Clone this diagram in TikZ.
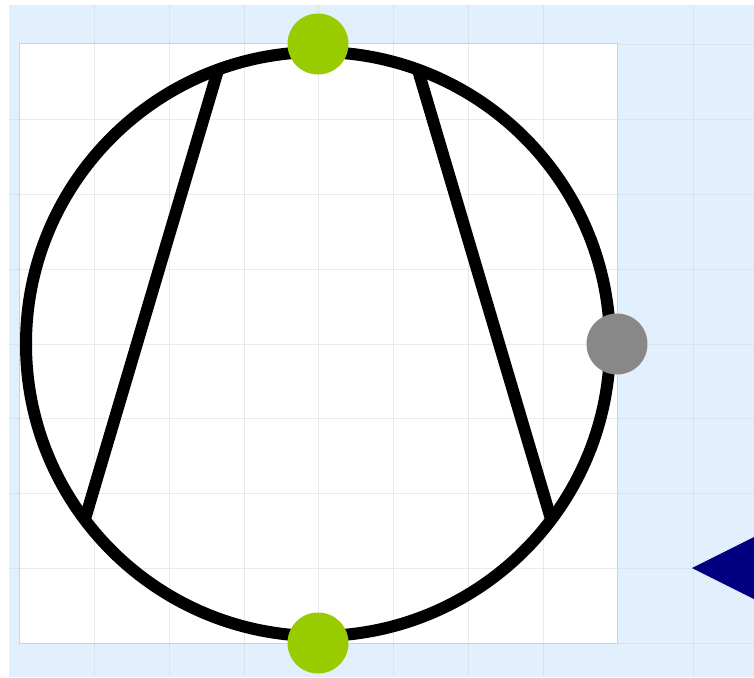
\documentclass[tikz,border=0pt]{standalone}
\definecolor{bgblue}{HTML}{E1F0FC}
\definecolor{gridc}{HTML}{D2D8DE}
\definecolor{rectc}{HTML}{CCD2D8}
\definecolor{dotgreen}{HTML}{99CC00}
\definecolor{dotgray}{HTML}{888888}
\definecolor{navy}{HTML}{000080}
\tikzset{
  gridline/.style={draw=gridc, line width=0.7pt, opacity=0.5},
  ring/.style={circle, draw=black, line width=12pt, minimum size=584pt, inner sep=0pt, outer sep=0pt},
  chord/.style={draw=black, line width=12pt},
  dot/.style={circle, minimum size=61pt, inner sep=0pt},
}
\begin{document}
\begin{tikzpicture}[x=1pt,y=-1pt]
\useasboundingbox (0,0) rectangle (754,677);
\clip (0,0) rectangle (754,677);
\fill[bgblue] (9,5) rectangle (754,677);
\fill[white] (19,44) rectangle (617,643);
\foreach \x in {94,169,244,318,393,468,543,693}
  \draw[gridline] (\x,5) -- (\x,677);
\foreach \y in {119,194,269,344,418,493,568}
  \draw[gridline] (9,\y) -- (754,\y);
\draw[gridline] (617,44) -- (754,44);
\draw[gridline] (617,643) -- (754,643);
\draw[draw=rectc, line width=1pt] (19,44) rectangle (617,643);
\node[ring] (c) at (318,344) {};
\draw[chord] (c.110) -- (c.217);
\draw[chord] (c.70) -- (c.323);
\node[dot, fill=dotgreen] (gtop) at (318,44) {};
\node[dot, fill=dotgreen] (gbot) at (318,643) {};
\node[dot, fill=dotgray] (gray) at (617,344) {};
\fill[navy] (692,568) -- (800,514) -- (800,622) -- cycle;
\end{tikzpicture}
\end{document}
